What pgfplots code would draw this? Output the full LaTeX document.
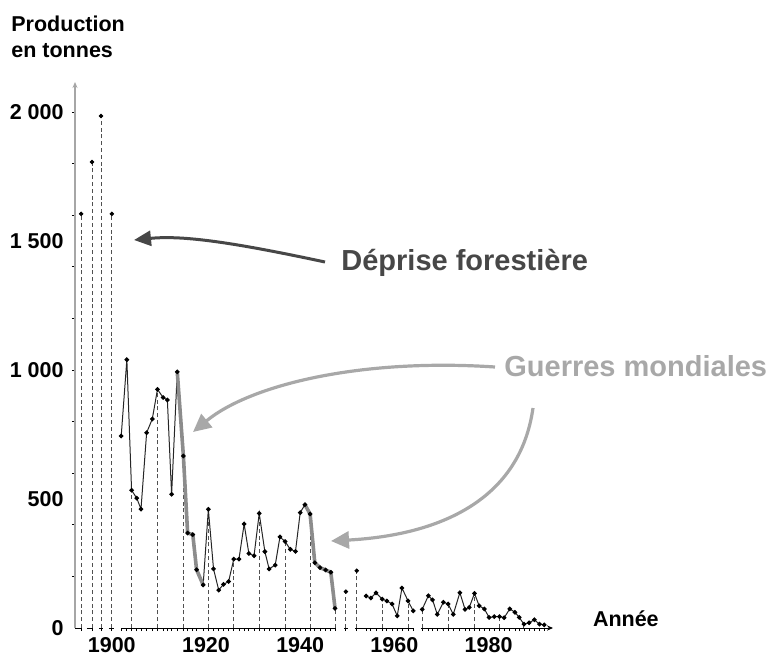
\documentclass[border=0pt]{standalone}
\usepackage{fontspec}
\setmainfont{Liberation Sans}
\usepackage{pgfplots}
\usepackage{pgfplotstable}
\pgfplotsset{compat=1.18}
\usetikzlibrary{arrows.meta}
\definecolor{darkann}{HTML}{474747}
\definecolor{lightann}{HTML}{A8A8A8}
\definecolor{warline}{HTML}{8C8C8C}
\definecolor{stem}{HTML}{505050}

\pgfplotstableread{
x y
1902.0 744
1903.2 1040
1904.2 534
1905.3 503
1906.2 461
1907.4 757
1908.6 810
1909.7 925
1910.9 893
1911.8 884
1912.7 518
1913.9 993
1915.2 667
1916.1 368
1917.2 362
1918.0 226
1919.4 167
1920.5 460
1921.6 229
1922.7 147
1923.7 169
1924.8 180
1925.9 267
1927.0 267
1928.1 403
1929.1 289
1930.2 280
1931.3 444
1932.5 296
1933.4 229
1934.7 244
1935.7 353
1936.8 335
1937.9 305
1939.0 297
1940.0 447
1941.0 478
1942.1 442
1943.1 253
1944.2 234
1945.4 225
1946.5 216
1947.4 76
}\seriesA

\pgfplotstableread{
x y
1913.9 993
1915.2 667
1916.1 368
1917.2 362
1918.0 226
1919.4 167
}\warOne

\pgfplotstableread{
x y
1941.0 478
1942.1 442
1943.1 253
1944.2 234
1945.4 225
1946.5 216
1947.4 76
}\warTwo

\pgfplotstableread{
x y
1893.5 1605
1895.8 1806
1897.7 1984
1900.0 1605
1949.7 141
1952.0 222
}\isolated

\pgfplotstableread{
x y
1954.0 124
1955.0 116
1956.1 136
1957.4 112
1958.4 105
1959.5 93
1960.6 47
1961.6 155
1962.9 105
1964.0 66
}\seriesB

\pgfplotstableread{
x y
1965.9 72
1967.2 125
1968.1 109
1969.1 53
1970.4 100
1971.4 93
1972.5 53
1973.9 137
1975.0 72
1975.9 80
1977.0 134
1978.0 86
1979.1 74
1980.1 41
1981.2 44
1982.3 44
1983.3 40
1984.5 74
1985.6 61
1986.5 41
1987.5 15
1988.6 20
1989.7 32
1990.8 15
1991.8 12
}\seriesC

\pgfplotstableread{
x y
1893.5 1605
1895.8 1806
1897.7 1984
1900.0 1605
1904.2 534
1909.7 925
1915.2 667
1920.5 460
1925.9 267
1931.3 444
1936.8 335
1942.1 442
1947.4 76
1949.7 141
1952.0 222
1957.4 112
1962.9 105
1965.9 72
1971.4 93
1977.0 134
1982.3 44
1987.5 15
}\stems

\begin{document}
\begin{tikzpicture}
\path[use as bounding box] (0,0) rectangle (392pt,330.5pt);
\begin{axis}[
  at={(37.5pt,16.5pt)}, anchor=south west,
  scale only axis, width=239pt, height=273pt,
  xmin=1892.19, xmax=1993.67, ymin=0, ymax=2116,
  clip=false,
  axis x line=bottom, axis y line=left,
  x axis line style={draw=none},
  y axis line style={draw=gray!70, line width=0.8pt, -{Stealth[length=3pt,width=2.5pt]}},
  tick align=outside,
  major tick length=0pt,
  minor tick length=1.6pt,
  tick style={black, line width=0.4pt},
  xtick={1900,1920,1940,1960,1980},
  xticklabels={1900,1920,1940,1960,1980},
  ytick={0,500,1000,1500,2000},
  yticklabels={0,500,1 000,1 500,2 000},
  minor ytick={200,400,600,800,1000,1200,1400,1600,1800,2000},
  minor xtick={1893.5,1895.8,1897.7,1900.0,1902.0,1903.2,1904.2,1905.3,1906.2,1907.4,1908.6,1909.7,1910.9,1911.8,1912.7,1913.9,1915.2,1916.1,1917.2,1918.0,1919.4,1920.5,1921.6,1922.7,1923.7,1924.8,1925.9,1927.0,1928.1,1929.1,1930.2,1931.3,1932.5,1933.4,1934.7,1935.7,1936.8,1937.9,1939.0,1940.0,1941.0,1942.1,1943.1,1944.2,1945.4,1946.5,1947.4,1949.7,1952.0,1954.0,1955.0,1956.1,1957.4,1958.4,1959.5,1960.6,1961.6,1962.9,1964.0,1965.9,1967.2,1968.1,1969.1,1970.4,1971.4,1972.5,1973.9,1975.0,1975.9,1977.0,1978.0,1979.1,1980.1,1981.2,1982.3,1983.3,1984.5,1985.6,1986.5,1987.5,1988.6,1989.7,1990.8,1991.8},
  ticklabel style={font=\fontsize{10.75}{13}\selectfont\bfseries, inner sep=0pt},
  xticklabel style={anchor=north, yshift=-4.6pt},
  yticklabel style={anchor=east, xshift=-5.5pt},
]
% x axis drawn in broken segments as in the original
\draw[black, line width=0.5pt] (axis cs:1892.19,0) -- (axis cs:1893.6,0);
\draw[black, line width=0.5pt] (axis cs:1894.7,0) -- (axis cs:1896.0,0);
\draw[black, line width=0.5pt] (axis cs:1897.3,0) -- (axis cs:1898.1,0);
\draw[black, line width=0.5pt] (axis cs:1899.4,0) -- (axis cs:1900.5,0);
\draw[black, line width=0.5pt] (axis cs:1902.0,0) -- (axis cs:1947.6,0);
\draw[black, line width=0.5pt] (axis cs:1949.3,0) -- (axis cs:1950.1,0);
\draw[black, line width=0.5pt] (axis cs:1951.6,0) -- (axis cs:1964.2,0);
\draw[black, line width=0.5pt, -{Stealth[length=3pt,width=2.6pt]}] (axis cs:1965.6,0) -- (axis cs:1993.67,0);

% dashed drop lines
\addplot[ycomb, draw=stem, line width=0.45pt, dash pattern=on 2pt off 1.4pt, no marks] table[x=x,y=y] {\stems};

% series
\addplot[black!85, line width=0.5pt, mark=*, mark size=0.9pt, mark options={solid, fill=black, draw=black}] table[x=x,y=y] {\seriesA};
\addplot[warline, line width=1.8pt, no marks] table[x=x,y=y] {\warOne};
\addplot[warline, line width=1.8pt, no marks] table[x=x,y=y] {\warTwo};
\addplot[black!85, line width=0.5pt, mark=*, mark size=0.9pt, mark options={solid, fill=black, draw=black}] table[x=x,y=y] {\seriesB};
\addplot[black!85, line width=0.5pt, mark=*, mark size=0.9pt, mark options={solid, fill=black, draw=black}] table[x=x,y=y] {\seriesC};
\addplot[only marks, mark=*, mark size=0.9pt, mark options={fill=black, draw=black}] table[x=x,y=y] {\isolated};
\end{axis}

% axis titles
\node[anchor=base west, inner sep=0pt, font=\fontsize{10.75}{13}\selectfont\bfseries] at (5.5pt,314.6pt) {Production};
\node[anchor=base west, inner sep=0pt, font=\fontsize{10.75}{13}\selectfont\bfseries] at (5.5pt,302pt) {en tonnes};
\node[anchor=base west, inner sep=0pt, font=\fontsize{10.75}{13}\selectfont\bfseries] at (296.3pt,17.15pt) {Année};

% annotations
\node[anchor=base west, inner sep=0pt, text=darkann, font=\fontsize{14.5}{17}\selectfont\bfseries] at (170.5pt,195.5pt) {Déprise forestière};
\node[anchor=base west, inner sep=0pt, text=lightann, font=\fontsize{14.5}{17}\selectfont\bfseries] at (252pt,142.2pt) {Guerres mondiales};

\draw[darkann, line width=1.5pt, -{Triangle[length=8.5pt,width=7.5pt]}]
  (162.5pt,199.5pt) .. controls (118pt,209pt) and (92pt,213pt) .. (67pt,210.5pt);
\draw[lightann, line width=1.6pt, -{Triangle[length=9pt,width=8.5pt]}]
  (247.5pt,147pt) .. controls (180pt,151.5pt) and (125pt,138pt) .. (96.5pt,114.5pt);
\draw[lightann, line width=1.6pt, -{Triangle[length=9pt,width=8.5pt]}]
  (266.5pt,126.5pt) .. controls (260pt,80.5pt) and (220pt,63pt) .. (165.5pt,60pt);
\end{tikzpicture}
\end{document}
